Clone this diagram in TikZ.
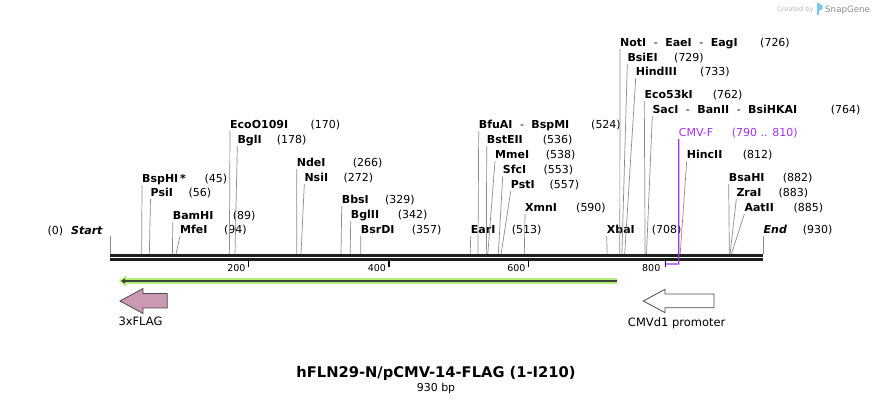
\documentclass[tikz,border=0pt]{standalone}
\usepackage{fontspec}
\setmainfont{DejaVu Sans}
\usetikzlibrary{arrows.meta}

\definecolor{primerpurple}{RGB}{160,50,240}
\definecolor{flagpink}{RGB}{204,153,180}
\definecolor{orfgreen}{RGB}{180,238,125}
\definecolor{orfdark}{RGB}{60,68,55}
\definecolor{logoblue}{RGB}{120,200,240}

\newcommand{\bp}[1]{110+0.7022*#1}
\newcommand{\enzsep}{\hspace{7.5pt}{\mdseries -}\hspace{7.5pt}}

\tikzstyle{enzyme} = [anchor=base west, inner sep=0pt, text depth=3pt, font=\fontsize{11}{13}\selectfont\bfseries]
\tikzstyle{endlabel} = [enzyme, font=\fontsize{11}{13}\selectfont\bfseries\itshape]
\tikzstyle{num} = [anchor=base west, inner sep=0pt, font=\fontsize{11}{13}\selectfont]
\tikzstyle{cutline} = [draw=black!45, line width=0.7pt]
\tikzstyle{backbone} = [draw=black!88, line width=2.7pt]
\tikzstyle{scaletick} = [draw=black, line width=1.3pt]
\tikzstyle{ticklabel} = [anchor=base east, inner sep=0pt, font=\fontsize{9.5}{11}\selectfont]
\tikzstyle{feature} = [draw=black!70, line width=0.8pt, line join=miter]
\tikzstyle{featlabel} = [anchor=base, inner sep=0pt, font=\fontsize{11.5}{13}\selectfont]
\tikzstyle{primer} = [draw=primerpurple, line width=1.2pt]
\tikzstyle{orfband} = [draw=orfgreen, line width=6pt, -{Triangle[length=7pt,width=11pt]}]
\tikzstyle{orfline} = [draw=orfdark, line width=2pt, -{Triangle[length=4pt,width=5pt]}]

\begin{document}
\begin{tikzpicture}[x=1pt, y=-1pt]
    \useasboundingbox (0,0) rectangle (874,404);

    % Logo
    \node (created) [anchor=base west, inner sep=0pt, text=black!28, font=\fontsize{6.6}{8}\selectfont] at (777,12) {Created by};
    \fill [logoblue] (816.5,3.5) rectangle (818.8,15);
    \fill [logoblue] (818.8,3.5) -- (822.5,5.5) -- (822.5,9) -- (818.8,11) -- cycle;
    \node (snapgene) [anchor=base west, inner sep=0pt, text=black!45, font=\fontsize{8.7}{10}\selectfont] at (825,12.5) {SnapGene};

    % Backbone
    \draw [backbone] (110,255.3) -- (763,255.3);
    \draw [backbone] (110,259.5) -- (763,259.5);

    % Scale
    \draw [scaletick] (248.5,261) -- (248.5,266.5);
    \draw [scaletick] (389,261) -- (389,266.5);
    \draw [scaletick] (528.5,261) -- (528.5,266.5);
    \draw [scaletick] (665.5,261) -- (665.5,266.5);
    \node (t200) [ticklabel] at (245.7,271) {200};
    \node (t400) [ticklabel] at (386.2,271) {400};
    \node (t600) [ticklabel] at (525.7,271) {600};
    \node (t800) [ticklabel] at (660.5,271) {800};

    % Ends
    \node (startnum) [num] at (47.3,234) {(0)};
    \node (startlbl) [endlabel] at (71,234) {Start};
    \node (endlbl) [endlabel] at (763.5,233) {End};
    \node (endnum) [num] at (802.7,233) {(930)};

    % Enzymes
    \node (bsphi) [enzyme] at (142,182) {BspHI\,*};
    \node (bsphi_n) [num] at (204.3,182) {(45)};
    \node (psii) [enzyme] at (150.5,196) {PsiI};
    \node (psii_n) [num] at (188.3,196) {(56)};
    \node (bamhi) [enzyme] at (172.7,219) {BamHI};
    \node (bamhi_n) [num] at (232.7,219) {(89)};
    \node (mfei) [enzyme] at (180,233) {MfeI};
    \node (mfei_n) [num] at (224,233) {(94)};
    \node (ecoo) [enzyme] at (230,128) {EcoO109I};
    \node (ecoo_n) [num] at (310.5,128) {(170)};
    \node (bgli) [enzyme] at (237.3,143) {BglI};
    \node (bgli_n) [num] at (276.7,143) {(178)};
    \node (ndei) [enzyme] at (296.7,166) {NdeI};
    \node (ndei_n) [num] at (352.7,166) {(266)};
    \node (nsii) [enzyme] at (304.3,181) {NsiI};
    \node (nsii_n) [num] at (343.3,181) {(272)};
    \node (bbsi) [enzyme] at (341.7,203) {BbsI};
    \node (bbsi_n) [num] at (385,203) {(329)};
    \node (bglii) [enzyme] at (350.7,218) {BglII};
    \node (bglii_n) [num] at (397.7,218) {(342)};
    \node (bsrdi) [enzyme] at (360.7,233) {BsrDI};
    \node (bsrdi_n) [num] at (411.7,233) {(357)};
    \node (eari) [enzyme] at (470.7,233) {EarI};
    \node (eari_n) [num] at (511.7,233) {(513)};
    \node (bfuai) [enzyme] at (478.7,128) {BfuAI\enzsep BspMI};
    \node (bfuai_n) [num] at (591,128) {(524)};
    \node (bsteii) [enzyme] at (486.7,143) {BstEII};
    \node (bsteii_n) [num] at (542.7,143) {(536)};
    \node (mmei) [enzyme] at (495,158) {MmeI};
    \node (mmei_n) [num] at (545.7,158) {(538)};
    \node (sfci) [enzyme] at (502.7,173) {SfcI};
    \node (sfci_n) [num] at (543.3,173) {(553)};
    \node (psti) [enzyme] at (510.7,188) {PstI};
    \node (psti_n) [num] at (549.3,188) {(557)};
    \node (xmni) [enzyme] at (525,211) {XmnI};
    \node (xmni_n) [num] at (576,211) {(590)};
    \node (xbai) [enzyme] at (606.7,233) {XbaI};
    \node (xbai_n) [num] at (651.7,233) {(708)};
    \node (noti) [enzyme] at (620,46) {NotI\enzsep EaeI\enzsep EagI};
    \node (noti_n) [num] at (760,46) {(726)};
    \node (bsiei) [enzyme] at (627.3,61) {BsiEI};
    \node (bsiei_n) [num] at (674,61) {(729)};
    \node (hindiii) [enzyme] at (635.7,75) {HindIII};
    \node (hindiii_n) [num] at (700,75) {(733)};
    \node (eco53ki) [enzyme] at (644.3,98) {Eco53kI};
    \node (eco53ki_n) [num] at (712.7,98) {(762)};
    \node (saci) [enzyme] at (652.3,113) {SacI\enzsep BanII\enzsep BsiHKAI};
    \node (saci_n) [num] at (830.7,113) {(764)};
    \node (hincii) [enzyme] at (686.7,158) {HincII};
    \node (hincii_n) [num] at (742.7,158) {(812)};
    \node (bsahi) [enzyme] at (728.7,181) {BsaHI};
    \node (bsahi_n) [num] at (782.7,181) {(882)};
    \node (zrai) [enzyme] at (736.3,196) {ZraI};
    \node (zrai_n) [num] at (778.3,196) {(883)};
    \node (aatii) [enzyme] at (744.3,211) {AatII};
    \node (aatii_n) [num] at (793.3,211) {(885)};

    % Primer
    \node (cmvf) [enzyme, font=\fontsize{11}{13}\selectfont, text=primerpurple] at (678.7,136) {CMV-F};
    \node (cmvf_n) [num, text=primerpurple] at (731.7,136) {(790 .. 810)};

    % Cut sites
    \coordinate (c0top) at (110,236);
    \coordinate (c0) at (110,254);
    \coordinate (c930top) at (763,236);
    \coordinate (c930) at (763,254);
    \coordinate (c45) at (\bp{45},254);
    \coordinate (c56) at (\bp{56},254);
    \coordinate (c89) at (\bp{89},254);
    \coordinate (c94) at (\bp{94},254);
    \coordinate (c170) at (\bp{170},254);
    \coordinate (c178) at (\bp{178},254);
    \coordinate (c266) at (\bp{266},254);
    \coordinate (c272) at (\bp{272},254);
    \coordinate (c329) at (\bp{329},254);
    \coordinate (c342) at (\bp{342},254);
    \coordinate (c357) at (\bp{357},254);
    \coordinate (c513) at (\bp{513},254);
    \coordinate (c524) at (\bp{524},254);
    \coordinate (c536) at (\bp{536},254);
    \coordinate (c538) at (\bp{538},254);
    \coordinate (c553) at (\bp{553},254);
    \coordinate (c557) at (\bp{557},254);
    \coordinate (c590) at (\bp{590},254);
    \coordinate (c708) at (\bp{708},254);
    \coordinate (c726) at (\bp{726},254);
    \coordinate (c729) at (\bp{729},254);
    \coordinate (c733) at (\bp{733},254);
    \coordinate (c762) at (\bp{762},254);
    \coordinate (c764) at (\bp{764},254);
    \coordinate (c812) at (\bp{812},254);
    \coordinate (c882) at (\bp{882},254);
    \coordinate (c883) at (\bp{883},254);
    \coordinate (c885) at (\bp{885},254);
    \coordinate (p810) at (\bp{810},264);
    \coordinate (p790) at (\bp{790},264);

    % Lines
    \draw [cutline] (c0top) -- (c0);
    \draw [cutline] (c930top) -- (c930);
    \draw [cutline] (bsphi.south west) -- (c45);
    \draw [cutline] (psii.south west) -- (c56);
    \draw [cutline] (bamhi.south west) -- (c89);
    \draw [cutline] (mfei.south west) -- (c94);
    \draw [cutline] (ecoo.south west) -- (c170);
    \draw [cutline] (bgli.south west) -- (c178);
    \draw [cutline] (ndei.south west) -- (c266);
    \draw [cutline] (nsii.south west) -- (c272);
    \draw [cutline] (bbsi.south west) -- (c329);
    \draw [cutline] (bglii.south west) -- (c342);
    \draw [cutline] (bsrdi.south west) -- (c357);
    \draw [cutline] (eari.south west) -- (c513);
    \draw [cutline] (bfuai.south west) -- (c524);
    \draw [cutline] (bsteii.south west) -- (c536);
    \draw [cutline] (mmei.south west) -- (c538);
    \draw [cutline] (sfci.south west) -- (c553);
    \draw [cutline] (psti.south west) -- (c557);
    \draw [cutline] (xmni.south west) -- (c590);
    \draw [cutline] (xbai.south west) -- (c708);
    \draw [cutline] (noti.south west) -- (c726);
    \draw [cutline] (bsiei.south west) -- (c729);
    \draw [cutline] (hindiii.south west) -- (c733);
    \draw [cutline] (eco53ki.south west) -- (c762);
    \draw [cutline] (saci.south west) -- (c764);
    \draw [cutline] (hincii.south west) -- (c812);
    \draw [cutline] (bsahi.south west) -- (c882);
    \draw [cutline] (zrai.south west) -- (c883);
    \draw [cutline] (aatii.south west) -- (c885);
    \draw [primer] (cmvf.south west) -- (p810) -- (p790);

    % Features
    \coordinate (orfright) at (617,281);
    \coordinate (orfleft) at (119,281);
    \draw [orfband] (orfright) -- (orfleft);
    \draw [orfline] (orfright) -- ([xshift=2pt]orfleft);

    \draw [feature, fill=flagpink] (167.3,293.5) -- (143,293.5) -- (143,288.5) -- (120,301) -- (143,313.5) -- (143,308) -- (167.3,308) -- cycle;
    \draw [feature, fill=white] (714,294) -- (665,294) -- (665,289.3) -- (643.3,301) -- (665,312.7) -- (665,307.7) -- (714,307.7) -- cycle;
    \node (flaglbl) [featlabel] at (140.5,325) {3xFLAG};
    \node (cmvlbl) [featlabel] at (676.7,326) {CMVd1 promoter};

    % Title
    \node (title) [anchor=base, inner sep=0pt, font=\fontsize{14.7}{17}\selectfont\bfseries] at (436,377) {hFLN29-N/pCMV-14-FLAG (1-I210)};
    \node (size) [anchor=base, inner sep=0pt, font=\fontsize{11}{13}\selectfont] at (436,391) {930 bp};

\end{tikzpicture}
\end{document}
